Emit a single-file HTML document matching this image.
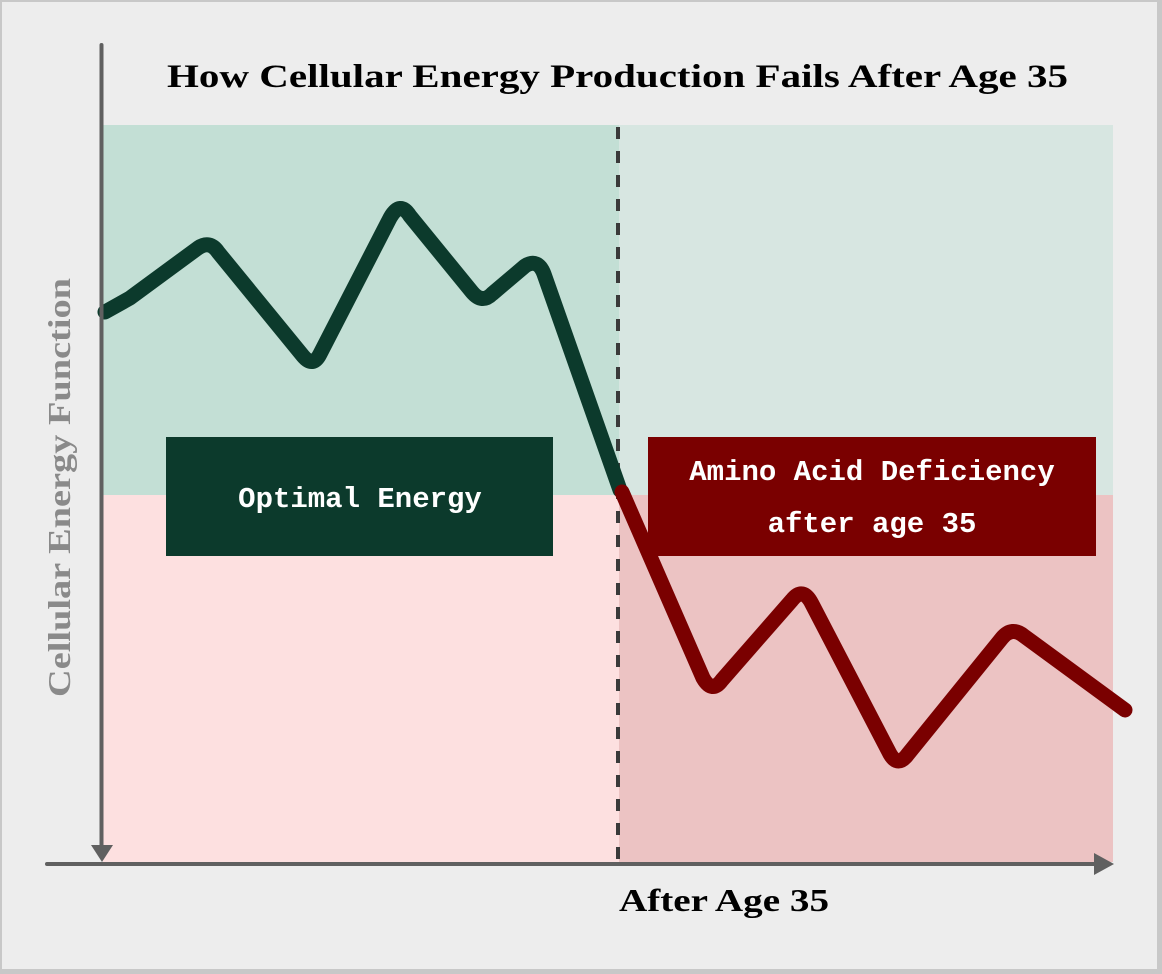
<!DOCTYPE html>
<html><head><style>
html,body{margin:0;padding:0;}
body{width:1162px;height:974px;background:#ededed;position:relative;overflow:hidden;font-family:"Liberation Serif",serif;}
</style></head><body>
<svg width="1162" height="974" viewBox="0 0 1162 974" style="position:absolute;left:0;top:0">
<rect x="0" y="0" width="1162" height="974" fill="#ededed"/>
<rect x="1157" y="0" width="5" height="974" fill="#c8c8c8"/>
<rect x="0" y="969" width="1162" height="5" fill="#c8c8c8"/>
<rect x="0" y="0" width="1162" height="2" fill="#c8c8c8"/>
<rect x="0" y="0" width="2" height="974" fill="#c8c8c8"/>
<rect x="103" y="125" width="516" height="370" fill="#c3dfd5"/>
<rect x="619" y="125" width="494" height="370" fill="#d7e6e1"/>
<rect x="103" y="495" width="516" height="367" fill="#fde0e0"/>
<rect x="619" y="495" width="494" height="367" fill="#ecc3c3"/>
<line x1="618" y1="127" x2="618" y2="862" stroke="#3a3a3a" stroke-width="4" stroke-dasharray="12,12"/>
<path d="M105,312 L130,298 L198,248 Q210,240 218,252 L303,356 Q313,368 320,354 L390,218 Q400,200 410,216 L472,292 Q482,304 492,294 L525,266 Q538,258 544,274 L620,490" fill="none" stroke="#0c3a2c" stroke-width="15" stroke-linejoin="round" stroke-linecap="round"/>
<path d="M622,492 L703,678 Q712,694 722,680 L792,600 Q803,586 812,604 L890,754 Q898,768 908,754 L1002,638 Q1012,626 1024,636 L1125,710" fill="none" stroke="#7a0000" stroke-width="15" stroke-linejoin="round" stroke-linecap="round"/>
<line x1="101.5" y1="45" x2="101.5" y2="850" stroke="#606060" stroke-width="4" stroke-linecap="round"/>
<polygon points="91,845 113,845 102,862" fill="#606060"/>
<line x1="47" y1="864" x2="1100" y2="864" stroke="#606060" stroke-width="4" stroke-linecap="round"/>
<polygon points="1094,853 1114,864 1094,875" fill="#606060"/>
<rect x="166" y="437" width="387" height="119" fill="#0c3a2c"/>
<rect x="648" y="437" width="448" height="119" fill="#7a0000"/>
<text x="360" y="507" text-anchor="middle" fill="#fff" font-family="Liberation Mono, monospace" font-weight="bold" font-size="29">Optimal Energy</text>
<text x="872" y="480" text-anchor="middle" fill="#fff" font-family="Liberation Mono, monospace" font-weight="bold" font-size="29">Amino Acid Deficiency</text>
<text x="872" y="532" text-anchor="middle" fill="#fff" font-family="Liberation Mono, monospace" font-weight="bold" font-size="29">after age 35</text>
<text x="167" y="87" fill="#000" font-weight="bold" font-size="33" textLength="901" lengthAdjust="spacingAndGlyphs">How Cellular Energy Production Fails After Age 35</text>
<text x="619" y="911" fill="#000" font-weight="bold" font-size="32" textLength="210" lengthAdjust="spacingAndGlyphs">After Age 35</text>
<text transform="translate(70,697) rotate(-90)" fill="#8a8a8a" font-weight="bold" font-size="32" textLength="419" lengthAdjust="spacingAndGlyphs">Cellular Energy Function</text>
</svg>
</body></html>
